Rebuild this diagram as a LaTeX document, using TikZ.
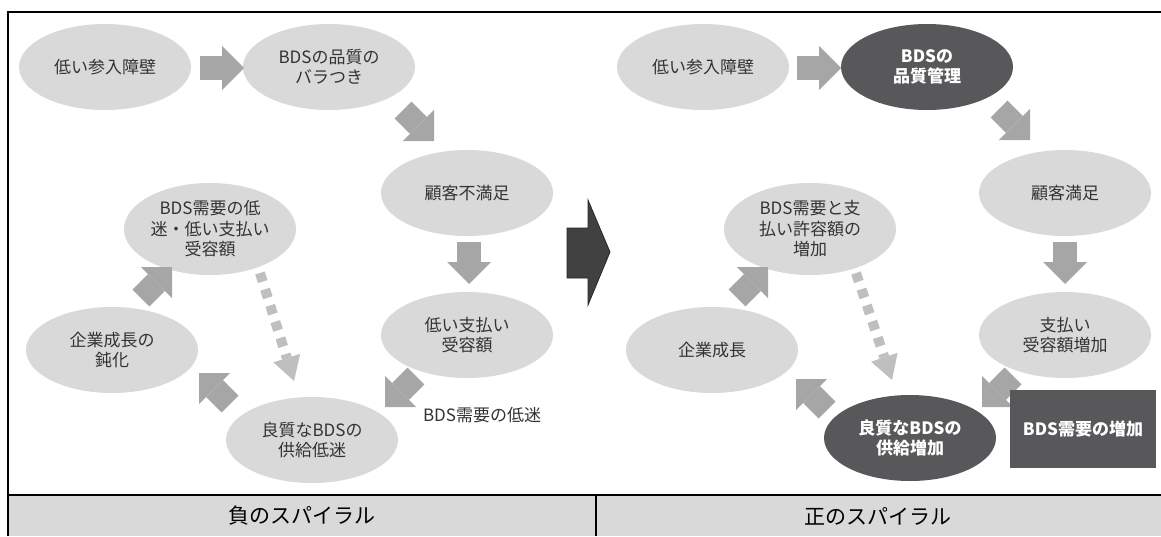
\documentclass[tikz,border=0pt]{standalone}
\usepackage{fontspec}
\setmainfont{Noto Sans CJK JP}
\usetikzlibrary{shapes.geometric,arrows.meta}
\definecolor{ellgray}{HTML}{D9D9D9}
\definecolor{arrgray}{HTML}{A6A6A6}
\definecolor{dotgray}{HTML}{BFBFBF}
\definecolor{darkfill}{HTML}{58585A}
\definecolor{bigdark}{HTML}{414141}
\definecolor{txtgray}{HTML}{333333}
\begin{document}
\begin{tikzpicture}[x=1pt,y=-1pt,
  ell/.style={ellipse, fill=ellgray, minimum width=172pt, minimum height=86pt, inner sep=0pt, align=center, text=txtgray, font=\fontsize{17}{20.5}\selectfont},
  darkell/.style={ell, fill=darkfill, text=white, font=\bfseries\fontsize{17}{20.5}\selectfont},
  fat/.style={draw=arrgray, line width=24pt, -{Triangle[length=22pt,width=44pt,line width=0pt]}},
  dotarr/.style={draw=dotgray, line width=10pt, dash pattern=on 9pt off 8pt, -{Triangle[length=24pt,width=28pt,line width=0pt]}},
  lbl/.style={text=txtgray, font=\fontsize{17}{20}\selectfont},
  foot/.style={text=black, font=\fontsize{21}{24}\selectfont}]
\useasboundingbox (0,0) rectangle (1161,536);
% frame and footer
\fill[ellgray] (9,495) rectangle (1161,536);
\draw[line width=2pt] (8,536) -- (8,11.5) -- (1161,11.5);
\draw[line width=2pt] (8,494.5) -- (1161,494.5);
\draw[line width=2pt] (595.5,494.5) -- (595.5,536);
\node[foot] (neg) at (302,516) {負のスパイラル};
\node[foot] (pos) at (878,516) {正のスパイラル};
% big arrow between panels
\draw[fill=bigdark, draw=black!85, line width=0.8pt] (567,228) -- (588,228) -- (588,200) -- (610,252) -- (588,305) -- (588,278) -- (567,278) -- cycle;
% ---------- left panel ----------
\node[ell] (e1) at (105,67) {低い参入障壁};
\node[ell] (e2) at (329,67) {BDSの品質の\\バラつき};
\node[ell] (e3) at (467,193) {顧客不満足};
\node[ell] (e4) at (467,335) {低い支払い\\受容額};
\node[ell] (e5) at (312,440) {良質なBDSの\\供給低迷};
\node[ell] (e6) at (112,350) {企業成長の\\鈍化};
\node[ell, minimum height=92pt] (e7) at (210,229) {BDS需要の低\\迷・低い支払い\\受容額};
\node[lbl] (lab) at (482,415) {BDS需要の低迷};
\coordinate (a1s) at (200,68);  \coordinate (a1e) at (244,68);
\coordinate (a2s) at (403,110); \coordinate (a2e) at (434,141);
\coordinate (a3s) at (469,242); \coordinate (a3e) at (469,284);
\coordinate (a4s) at (416,376); \coordinate (a4e) at (385,407);
\coordinate (a5s) at (230,404); \coordinate (a5e) at (199,373);
\coordinate (a6s) at (141,298); \coordinate (a6e) at (172,267);
\coordinate (d1s) at (260,273); \coordinate (d1e) at (294,381);
\draw[fat] (a1s) -- (a1e);
\draw[fat] (a2s) -- (a2e);
\draw[fat] (a3s) -- (a3e);
\draw[fat] (a4s) -- (a4e);
\draw[fat] (a5s) -- (a5e);
\draw[fat] (a6s) -- (a6e);
\draw[dotarr] (d1s) -- (d1e);
% ---------- right panel ----------
\node[ell] (f1) at (703,67) {低い参入障壁};
\node[darkell] (f2) at (927,67) {BDSの\\品質管理};
\node[ell] (f3) at (1065,193) {顧客満足};
\node[ell] (f4) at (1065,335) {支払い\\受容額増加};
\node[darkell] (f5) at (910,438) {良質なBDSの\\供給増加};
\node[ell] (f6) at (712,350) {企業成長};
\node[ell, minimum height=92pt] (f7) at (810,229) {BDS需要と支\\払い許容額の\\増加};
\coordinate (b1s) at (797,68);  \coordinate (b1e) at (841,68);
\coordinate (b2s) at (999,109); \coordinate (b2e) at (1030,140);
\coordinate (b3s) at (1065,242); \coordinate (b3e) at (1065,284);
\coordinate (b4s) at (1013,376); \coordinate (b4e) at (982,407);
\coordinate (b5s) at (827,410); \coordinate (b5e) at (796,379);
\coordinate (b6s) at (737,298); \coordinate (b6e) at (768,267);
\coordinate (d2s) at (856,273); \coordinate (d2e) at (892,380);
\draw[fat] (b1s) -- (b1e);
\draw[fat] (b2s) -- (b2e);
\draw[fat] (b3s) -- (b3e);
\draw[fat] (b4s) -- (b4e);
\draw[fat] (b5s) -- (b5e);
\draw[fat] (b6s) -- (b6e);
\draw[dotarr] (d2s) -- (d2e);
\node[rectangle, fill=darkfill, minimum width=146pt, minimum height=78pt, inner sep=0pt, text=white, font=\bfseries\fontsize{17}{20}\selectfont] (box) at (1083,429) {BDS需要の増加};
\end{tikzpicture}
\end{document}
